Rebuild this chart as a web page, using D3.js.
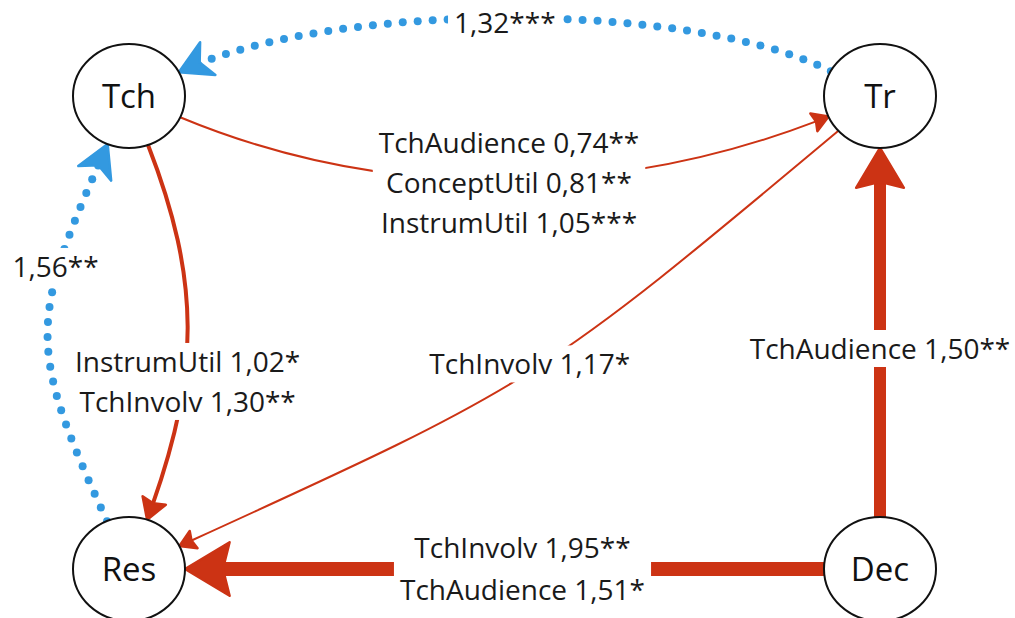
<!DOCTYPE html>
<html><head><meta charset="utf-8">
<script src="https://cdn.jsdelivr.net/npm/d3@7"></script>
<style>body{margin:0;background:#fff}svg{display:block}</style>
</head><body>
<svg id="c" width="1015" height="618"></svg>
<script>
// ---- data ----
const nodeNames = ["Tch", "Tr", "Res", "Dec"];
const nodeCol = [0, 1, 0, 1];
const nodeRow = [0, 0, 1, 1];
const edgeSource = ["Tr", "Res", "Tch", "Tch", "Tr", "Dec", "Dec"];
const edgeTarget = ["Tch", "Tch", "Tr", "Res", "Res", "Tr", "Res"];
const edgeKind = ["cov", "cov", "path", "path", "path", "path", "path"];
const edgeLabels = [
  ["1,32***"],
  ["1,56**"],
  ["TchAudience 0,74**", "ConceptUtil 0,81**", "InstrumUtil 1,05***"],
  ["InstrumUtil 1,02*", "TchInvolv 1,30**"],
  ["TchInvolv 1,17*"],
  ["TchAudience 1,50**"],
  ["TchInvolv 1,95**", "TchAudience 1,51*"]
];
const edgeMaxCoef = [1.32, 1.56, 1.05, 1.30, 1.17, 1.50, 1.95];

// ---- layout (normalized to node grid) ----
const layoutCtrl = [
  [[0.747, -0.203], [0.268, -0.203]],
  [[-0.137, 0.526], [-0.133, 0.476]],
  [[0.346, 0.228], [0.656, 0.218]],
  [[0.0985, 0.402], [0.0932, 0.598]],
  [[0.543, 0.607], [0.543, 0.607]],
  null,
  null
];
const layoutLabelT = [0.5, 0.72, 0.5, 0.5, 0.5, 0.5, 0.5];
const layoutLabelOff = [[-4, 5], [-4, 3], [4, 3], [0, 49], [0, -8], [0, 16], [18, 0]];
const layoutLineH = [40, 40, 40, 40, 40, 40, 42];

const svg = d3.select("#c");
const x = d3.scaleLinear().domain([0, 1]).range([129, 880]);
const y = d3.scaleLinear().domain([0, 1]).range([96, 569]);
const RX = 56, RY = 52;
const RED = "#cc3314", BLUE = "#3399e0";
const widthScale = d3.scaleThreshold().domain([1.2, 1.4, 1.6]).range([2, 4, 12, 14]);
const FONT = "'Open Sans', sans-serif";
const LABEL_SIZE = 28;

const nodes = nodeNames.map((n, i) => ({ id: n, cx: x(nodeCol[i]), cy: y(nodeRow[i]) }));
const byId = Object.fromEntries(nodes.map(n => [n.id, n]));

function port(n, tx, ty) {
  const dx = tx - n.cx, dy = ty - n.cy;
  const t = 1 / Math.hypot(dx / RX, dy / RY);
  return [n.cx + dx * t, n.cy + dy * t];
}
function bez(p0, p1, p2, p3, t) {
  const u = 1 - t;
  const a = u * u * u, b = 3 * u * u * t, c = 3 * u * t * t, d = t * t * t;
  return [a * p0[0] + b * p1[0] + c * p2[0] + d * p3[0], a * p0[1] + b * p1[1] + c * p2[1] + d * p3[1]];
}

const gEdges = svg.append("g");
const gArrows = svg.append("g");
const gNodes = svg.append("g");
const gLabels = svg.append("g");

edgeSource.forEach((s, i) => {
  const S = byId[s], T = byId[edgeTarget[i]];
  const c = layoutCtrl[i];
  let p0, p3, c1, c2;
  if (c) {
    c1 = [x(c[0][0]), y(c[0][1])];
    c2 = [x(c[1][0]), y(c[1][1])];
    p0 = port(S, c1[0], c1[1]);
    p3 = port(T, c2[0], c2[1]);
  } else {
    p0 = port(S, T.cx, T.cy);
    p3 = port(T, S.cx, S.cy);
    c1 = [p0[0] + (p3[0] - p0[0]) / 3, p0[1] + (p3[1] - p0[1]) / 3];
    c2 = [p0[0] + 2 * (p3[0] - p0[0]) / 3, p0[1] + 2 * (p3[1] - p0[1]) / 3];
  }
  const p = d3.path();
  p.moveTo(p0[0], p0[1]);
  p.bezierCurveTo(c1[0], c1[1], c2[0], c2[1], p3[0], p3[1]);

  const kind = edgeKind[i];
  const w = kind === "cov" ? 8 : widthScale(edgeMaxCoef[i]);
  const color = kind === "cov" ? BLUE : RED;
  const L = kind === "cov" ? 32 : 11 + 2.4 * w;
  const HW = kind === "cov" ? 18 : L * 0.6;
  const notch = kind === "cov" ? 0.72 : 0.85;

  const pathEl = gEdges.append("path")
    .attr("d", p.toString())
    .attr("fill", "none");
  const len = pathEl.node().getTotalLength();

  if (kind === "cov") {
    pathEl.attr("stroke", "none");
    const pts = d3.range(0, len - L * 0.55, 15);
    gEdges.selectAll(null).data(pts).join("circle")
      .attr("cx", d => pathEl.node().getPointAtLength(d).x)
      .attr("cy", d => pathEl.node().getPointAtLength(d).y)
      .attr("r", w / 2)
      .attr("fill", color);
  } else {
    const cut = L * 0.8;
    pathEl.attr("stroke", color)
      .attr("stroke-width", w)
      .attr("stroke-dasharray", `${len - cut} ${len + 10}`);
  }

  // arrowhead
  const tip = pathEl.node().getPointAtLength(len);
  const back = pathEl.node().getPointAtLength(len - 3);
  const ang = Math.atan2(tip.y - back.y, tip.x - back.x) * 180 / Math.PI;
  gArrows.append("path")
    .attr("d", `M0,0 L${-L},${-HW} L${-L * notch},0 L${-L},${HW} Z`)
    .attr("transform", `translate(${tip.x},${tip.y}) rotate(${ang})`)
    .attr("fill", color)
    .attr("stroke", color)
    .attr("stroke-width", 2.5)
    .attr("stroke-linejoin", "round");

  // label
  const lp = bez(p0, c1, c2, p3, layoutLabelT[i]);
  const off = layoutLabelOff[i];
  const lx = lp[0] + off[0], ly = lp[1] + off[1];
  const lines = edgeLabels[i];
  const LH = layoutLineH[i];
  const g = gLabels.append("g");
  const rect = g.append("rect").attr("fill", "#fff");
  const n = lines.length;
  g.selectAll("text").data(lines).join("text")
    .attr("x", lx)
    .attr("y", (d, k) => ly + (k - (n - 1) / 2) * LH + LABEL_SIZE * 0.36)
    .attr("text-anchor", "middle")
    .attr("font-family", FONT)
    .attr("font-size", LABEL_SIZE)
    .attr("fill", "#1a1a1a")
    .text(d => d);
  let bx0 = Infinity, bx1 = -Infinity;
  g.selectAll("text").each(function () {
    const b = this.getBBox();
    bx0 = Math.min(bx0, b.x); bx1 = Math.max(bx1, b.x + b.width);
  });
  const hTot = n * LH - 3;
  rect.attr("x", bx0 - 6).attr("width", bx1 - bx0 + 12)
    .attr("y", ly - hTot / 2).attr("height", hTot);
});

// nodes
const ng = gNodes.selectAll("g").data(nodes).join("g");
ng.append("ellipse")
  .attr("cx", d => d.cx).attr("cy", d => d.cy)
  .attr("rx", RX).attr("ry", RY)
  .attr("fill", "#fff").attr("stroke", "#111").attr("stroke-width", 2);
ng.append("text")
  .attr("x", d => d.cx).attr("y", d => d.cy + 33 * 0.36)
  .attr("text-anchor", "middle")
  .attr("font-family", FONT).attr("font-size", 33)
  .attr("fill", "#111")
  .text(d => d.id);
</script>
</body></html>
